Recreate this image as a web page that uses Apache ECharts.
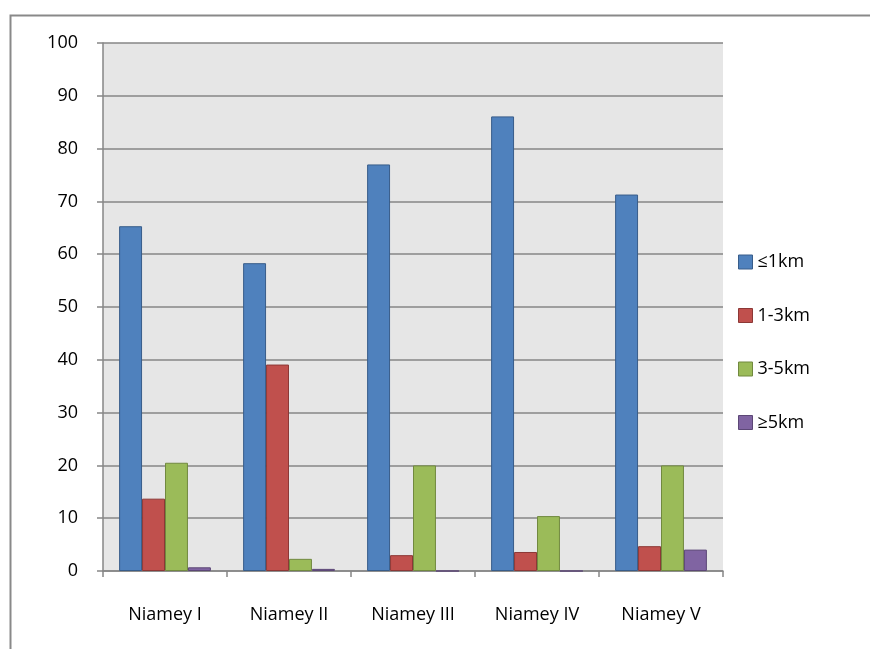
<!DOCTYPE html>
<html>
<head>
<meta charset="utf-8">
<script src="https://cdn.jsdelivr.net/npm/echarts@6/dist/echarts.min.js"></script>
<style>
html,body{margin:0;padding:0;background:#fff;}
#c{width:870px;height:649px;}
</style>
</head>
<body>
<div id="c"></div>
<script>
const categories = ['Niamey I', 'Niamey II', 'Niamey III', 'Niamey IV', 'Niamey V'];
const seriesNames = ['≤1km', '1-3km', '3-5km', '≥5km'];
const le1km = [65.3, 58.3, 77.0, 86.1, 71.3];
const km1to3 = [13.7, 39.1, 3.0, 3.6, 4.7];
const km3to5 = [20.5, 2.3, 20.0, 10.4, 20.0];
const ge5km = [0.7, 0.4, 0, 0, 4.05];
const yTicks = [0, 10, 20, 30, 40, 50, 60, 70, 80, 90, 100];

const fills = ['#4F81BD', '#C0504D', '#9BBB59', '#8064A2'];
const borders = ['#385D8A', '#8C3836', '#71893F', '#5C4776'];
const values = [le1km, km1to3, km3to5, ge5km];
const FONT = '"Open Sans", Lato, sans-serif';

const chart = echarts.init(document.getElementById('c'), null, {renderer: 'canvas'});
chart.setOption({
  animation: false,
  backgroundColor: '#fff',
  graphic: [{
    type: 'rect', left: 8, top: 13,
    shape: {width: 900, height: 700},
    style: {fill: 'none', stroke: '#898989', lineWidth: 2},
    silent: true, z: -1
  }],
  grid: {left: 103, right: 147, top: 43, bottom: 78, show: true, backgroundColor: '#E6E6E6', borderWidth: 0},
  legend: {
    orient: 'vertical', left: 738, top: 253, itemGap: 35.5, padding: 0,
    itemWidth: 14, itemHeight: 14,
    textStyle: {fontFamily: FONT, fontSize: 18, color: '#000', padding: [0, 0, 0, 0]},
    data: seriesNames.map((n, i) => ({name: n, icon: 'rect', itemStyle: {color: fills[i], borderColor: borders[i], borderWidth: 1}}))
  },
  xAxis: {
    type: 'category', data: categories,
    axisLine: {lineStyle: {color: '#868686', width: 1.5}},
    axisTick: {show: true, alignWithLabel: false, length: 6, lineStyle: {color: '#868686', width: 1.5}},
    axisLabel: {fontFamily: FONT, fontSize: 18, color: '#000', margin: 35},
    splitLine: {show: false}
  },
  yAxis: {
    type: 'value', min: 0, max: 100, interval: 10,
    axisLine: {show: true, lineStyle: {color: '#868686', width: 1.5}},
    axisTick: {show: true, length: 6, lineStyle: {color: '#868686', width: 1.5}},
    axisLabel: {fontFamily: FONT, fontSize: 18, color: '#000', margin: 25,
      formatter: v => yTicks.includes(v) ? String(v) : ''},
    splitLine: {show: true, lineStyle: {color: '#868686', width: 1.5}}
  },
  series: seriesNames.map((n, i) => ({
    name: n, type: 'bar', data: values[i],
    barGap: '0%', barCategoryGap: '26%',
    itemStyle: {color: fills[i], borderColor: borders[i], borderWidth: 1}
  }))
});
</script>
</body>
</html>
